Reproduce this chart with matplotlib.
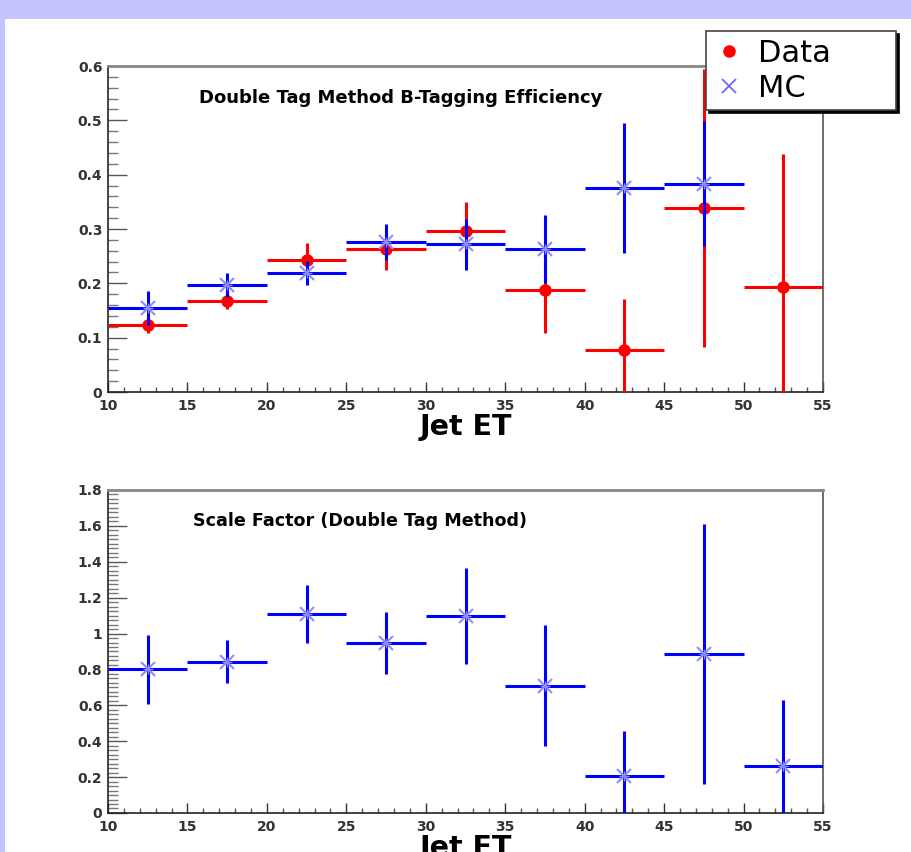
import matplotlib.pyplot as plt
from matplotlib.patches import Rectangle
from matplotlib.ticker import MultipleLocator, FormatStrFormatter

# bin centres (Jet ET), half bin width 2.5
et_data = [12.5, 17.5, 22.5, 27.5, 32.5, 37.5, 42.5, 47.5, 52.5]
eff_data = [0.123, 0.168, 0.243, 0.263, 0.297, 0.187, 0.077, 0.338, 0.194]
eff_data_err = [0.014, 0.016, 0.031, 0.038, 0.053, 0.078, 0.094, 0.256, 0.245]

et_mc = [12.5, 17.5, 22.5, 27.5, 32.5, 37.5, 42.5, 47.5]
eff_mc = [0.155, 0.197, 0.219, 0.276, 0.272, 0.263, 0.375, 0.383]
eff_mc_err = [0.031, 0.022, 0.022, 0.033, 0.047, 0.063, 0.120, 0.115]

et_sf = [12.5, 17.5, 22.5, 27.5, 32.5, 37.5, 42.5, 47.5, 52.5]
sf = [0.80, 0.843, 1.109, 0.946, 1.099, 0.708, 0.206, 0.886, 0.264]
sf_err = [0.193, 0.121, 0.162, 0.172, 0.268, 0.337, 0.251, 0.727, 0.366]

half_bin = 2.5
RED = '#ff0000'
BLUE = '#0000ff'
FONT = 'DejaVu Sans'

fig = plt.figure(figsize=(9.11, 8.52), dpi=100)
fig.patch.set_facecolor('#c4c4ff')
# white canvas inside the lavender border
fig.patches.append(Rectangle((5 / 911, 0), 1, 1 - 19 / 852, transform=fig.transFigure,
                             facecolor='white', edgecolor='none', zorder=-10))


def style_axis(ax, ymax, ymajor, yminor):
    ax.set_xlim(10, 55)
    ax.set_ylim(0, ymax)
    ax.xaxis.set_major_locator(MultipleLocator(5))
    ax.xaxis.set_minor_locator(MultipleLocator(1))
    ax.yaxis.set_major_locator(MultipleLocator(ymajor))
    ax.yaxis.set_minor_locator(MultipleLocator(yminor))
    ax.yaxis.set_major_formatter(FormatStrFormatter('%g'))
    ax.tick_params(axis='y', which='major', direction='in', length=14, width=1, color='#555', pad=4)
    ax.tick_params(axis='y', which='minor', direction='in', length=7, width=1, color='#777')
    ax.tick_params(axis='x', which='major', direction='in', length=7, width=1, color='#333', pad=5)
    ax.tick_params(axis='x', which='minor', direction='in', length=3.5, width=1, color='#555')
    for lab in ax.get_xticklabels() + ax.get_yticklabels():
        lab.set_fontfamily(FONT)
        lab.set_fontweight('bold')
        lab.set_fontsize(10)
        lab.set_color('#333')
    for side in ['left', 'bottom']:
        ax.spines[side].set_color('#222')
        ax.spines[side].set_linewidth(1.2)
    ax.spines['right'].set_color('#555')
    ax.spines['right'].set_linewidth(1.2)
    ax.spines['top'].set_color('#888')
    ax.spines['top'].set_linewidth(2)
    ax.set_xlabel('Jet ET', fontfamily=FONT, fontweight='bold', fontsize=20.5, labelpad=0)


# top panel: efficiency
ax1 = fig.add_axes([0.1186, 0.5399, 0.7848, 0.3826])
ax1.set_facecolor('white')
ax1.errorbar(et_data, eff_data, xerr=half_bin, yerr=eff_data_err, fmt='o', color=RED,
             ms=8, elinewidth=2.2, capsize=0, label='Data', zorder=3)
ax1.errorbar(et_mc, eff_mc, xerr=half_bin, yerr=eff_mc_err, fmt='none', ecolor=BLUE,
             elinewidth=2.2, capsize=0, zorder=4)
ax1.plot(et_mc, eff_mc, 'x', color='#8c8cff', ms=10, mew=1.5, zorder=5)
ax1.plot(et_mc, eff_mc, '+', color='#8c8cff', ms=7, mew=1.0, zorder=5)
style_axis(ax1, 0.6, 0.1, 0.02)
ax1.text(0.127, 0.902, 'Double Tag Method B-Tagging Efficiency', transform=ax1.transAxes,
         fontfamily=FONT, fontweight='bold', fontsize=13, va='center', ha='left')

# legend
h_data = plt.Line2D([], [], marker='o', ls='none', color=RED, ms=8)
h_mc = plt.Line2D([], [], marker='x', ls='none', color='#6060ff', ms=10, mew=1.2)
leg = fig.legend([h_data, h_mc], ['Data', 'MC'], loc='upper left',
                 bbox_to_anchor=(0.775, 0.873, 0.2085, 0.0906), mode='expand',
                 prop={'family': FONT, 'size': 22},
                 frameon=True, fancybox=False, shadow={'color': 'black', 'alpha': 1},
                 borderpad=0.25, labelspacing=0.2, handlelength=1.0, handletextpad=0.45,
                 borderaxespad=0)
leg.get_frame().set_edgecolor('#444')
leg.get_frame().set_linewidth(1.2)
leg.get_frame().set_alpha(1)

# bottom panel: scale factor
ax2 = fig.add_axes([0.1186, 0.0458, 0.7848, 0.3791])
ax2.set_facecolor('white')
ax2.errorbar(et_sf, sf, xerr=half_bin, yerr=sf_err, fmt='none', ecolor=BLUE,
             elinewidth=2.2, capsize=0, zorder=4)
ax2.plot(et_sf, sf, 'x', color='#8c8cff', ms=10, mew=1.5, zorder=5)
ax2.plot(et_sf, sf, '+', color='#8c8cff', ms=7, mew=1.0, zorder=5)
style_axis(ax2, 1.8, 0.2, 0.025)
ax2.text(0.119, 0.904, 'Scale Factor (Double Tag Method)', transform=ax2.transAxes,
         fontfamily=FONT, fontweight='bold', fontsize=12.6, va='center', ha='left')

fig.savefig('out.png', dpi=100, facecolor=fig.get_facecolor())
